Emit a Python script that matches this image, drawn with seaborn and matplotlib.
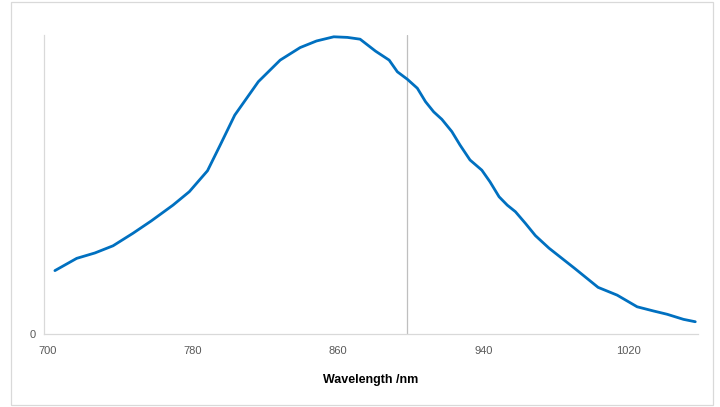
import matplotlib
matplotlib.use("Agg")
import matplotlib.pyplot as plt
import seaborn as sns
import pandas as pd
from matplotlib.patches import Rectangle

# Spectrum (arbitrary intensity, peak ~1)
wavelength = [704, 716, 726, 736, 747, 757, 769, 778, 788, 795, 803, 816, 828,
              839, 848, 857.5, 865, 872, 880.5, 888, 892.5, 898, 903.5, 908,
              912.5, 917, 922.5, 927, 932.5, 939, 943.5, 948.5, 953, 957.5,
              963, 968.5, 976, 990, 1003, 1013.5, 1024.5, 1033.5, 1041, 1050,
              1056.5]
intensity = [0.212, 0.253, 0.271, 0.295, 0.337, 0.378, 0.431, 0.476, 0.546,
             0.632, 0.732, 0.844, 0.916, 0.958, 0.980, 0.994, 0.992, 0.986,
             0.946, 0.916, 0.877, 0.852, 0.822, 0.777, 0.743, 0.718, 0.677,
             0.632, 0.582, 0.548, 0.509, 0.459, 0.431, 0.409, 0.370, 0.329,
             0.287, 0.220, 0.156, 0.130, 0.091, 0.077, 0.066, 0.049, 0.041]
x_ticks = [700, 780, 860, 940, 1020]

df = pd.DataFrame({"wavelength": wavelength, "intensity": intensity})

sns.set_theme(style="white")
plt.rcParams["font.family"] = ["Liberation Sans", "DejaVu Sans"]

fig = plt.figure(figsize=(7.2, 4.07), dpi=100)
ax = fig.add_axes([44 / 720, 73 / 407, 654 / 720, 299 / 407])

sns.lineplot(data=df, x="wavelength", y="intensity", ax=ax,
             color="#0070C0", linewidth=2.0)

# vertical value axis crossing
ax.axvline(898, color="#BFBFBF", linewidth=0.9, zorder=0)

ax.set_xlim(698, 1058)
ax.set_ylim(0, 1.0)
ax.set_xticks(x_ticks)
ax.set_yticks([0])
ax.tick_params(axis="x", length=0, pad=9, labelsize=8, labelcolor="#595959")
ax.tick_params(axis="y", length=0, pad=6, labelsize=8, labelcolor="#595959")

for side in ["top", "right"]:
    ax.spines[side].set_visible(False)
for side in ["left", "bottom"]:
    ax.spines[side].set_color("#D9D9D9")
    ax.spines[side].set_linewidth(0.9)

ax.set_ylabel("")
ax.set_xlabel("Wavelength /nm", fontsize=9, fontweight="bold", color="black")
ax.xaxis.set_label_coords(0.5, -0.154)
ax.xaxis.label.set_va("center")

# chart area border
fig.patches.append(Rectangle((11 / 720, 2 / 407), 702 / 720, 403 / 407,
                             transform=fig.transFigure, fill=False,
                             edgecolor="#D9D9D9", linewidth=0.9))

fig.savefig("out.png", dpi=100)
